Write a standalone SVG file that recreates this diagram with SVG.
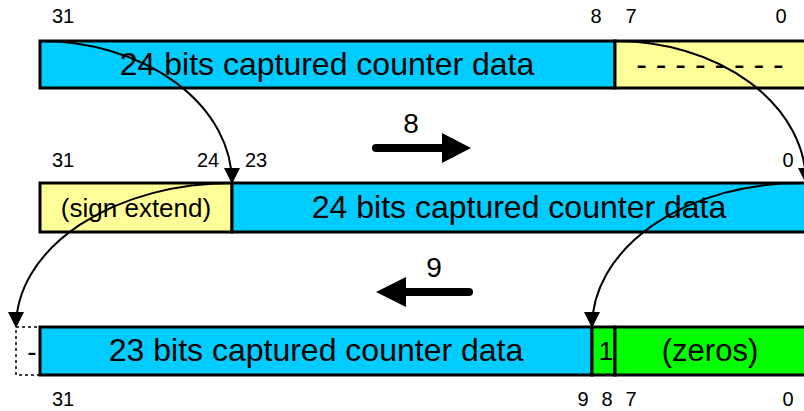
<svg xmlns="http://www.w3.org/2000/svg" width="804" height="411" viewBox="0 0 804 411">
<style>
.cell{stroke:#000;stroke-width:3}
.blue{fill:#00CCFF}
.yel{fill:#FFFF99}
.grn{fill:#00FF00}
.big{font-family:"Liberation Sans",Arial,sans-serif;font-size:32px;fill:#000;text-anchor:middle}
.mid{font-family:"Liberation Sans",Arial,sans-serif;font-size:26px;fill:#000;text-anchor:middle}
.num{font-family:"Liberation Sans",Arial,sans-serif;font-size:20px;fill:#000;text-anchor:middle}
.shift{font-family:"Liberation Sans",Arial,sans-serif;font-size:28px;fill:#000;text-anchor:middle}
.curve{fill:none;stroke:#000;stroke-width:2;marker-end:url(#ah)}
</style>
<defs>
<marker id="ah" markerUnits="userSpaceOnUse" markerWidth="16" markerHeight="16" refX="15" refY="8" orient="auto" viewBox="0 0 16 16">
<path d="M0,0 L16,8 L0,16 Z" fill="#000"/>
</marker>
</defs>
<rect width="804" height="411" fill="#fff"/>

<g id="row1-data">
<rect class="cell blue" x="40" y="41" width="575" height="47"/>
<text class="big" x="327" y="75">24 bits captured counter data</text>
</g>
<g id="row1-low">
<rect class="cell yel" x="615" y="41" width="200" height="47"/>
<text class="big" x="710" y="75">- - - - - - - -</text>
</g>
<g id="row1-labels">
<text class="num" x="63" y="23">31</text>
<text class="num" x="596" y="23">8</text>
<text class="num" x="631" y="23">7</text>
<text class="num" x="781" y="23">0</text>
</g>

<g id="row2-sign">
<rect class="cell yel" x="40" y="183" width="192" height="49"/>
<text class="mid" x="136" y="217">(sign extend)</text>
</g>
<g id="row2-data">
<rect class="cell blue" x="232" y="183" width="583" height="49"/>
<text class="big" x="519" y="218">24 bits captured counter data</text>
</g>
<g id="row2-labels">
<text class="num" x="63" y="167">31</text>
<text class="num" x="208" y="167">24</text>
<text class="num" x="256" y="167">23</text>
<text class="num" x="788" y="167">0</text>
</g>

<g id="row3-overflow">
<rect x="16" y="327" width="24" height="48" fill="#fff" stroke="#000" stroke-width="1.5" stroke-dasharray="3,3"/>
<text class="shift" x="32" y="361">-</text>
</g>
<g id="row3-data">
<rect class="cell blue" x="40" y="327" width="552" height="48"/>
<text class="big" x="316" y="361">23 bits captured counter data</text>
</g>
<g id="row3-one">
<rect class="cell grn" x="592" y="327" width="23" height="48"/>
<text class="shift" x="606" y="360" style="font-size:26px">1</text>
</g>
<g id="row3-zeros">
<rect class="cell grn" x="615" y="327" width="200" height="48"/>
<text class="big" x="710" y="361" style="font-size:31px">(zeros)</text>
</g>
<g id="row3-labels">
<text class="num" x="63" y="406">31</text>
<text class="num" x="583" y="406">9</text>
<text class="num" x="607" y="406">8</text>
<text class="num" x="631" y="406">7</text>
<text class="num" x="788" y="406">0</text>
</g>

<g id="shift-right">
<text class="shift" x="411" y="133">8</text>
<line x1="376" y1="148" x2="446" y2="148" stroke="#000" stroke-width="8" stroke-linecap="round"/>
<polygon points="442,133 471,148 442,163" fill="#000"/>
</g>
<g id="shift-left">
<text class="shift" x="434" y="277">9</text>
<line x1="469" y1="292" x2="402" y2="292" stroke="#000" stroke-width="8" stroke-linecap="round"/>
<polygon points="406,277 376,292 406,307" fill="#000"/>
</g>

<g id="connectors">
<path class="curve" d="M40,41 A192,142 0 0 1 232,183"/>
<path class="curve" d="M615,41 A191,142 0 0 1 806,183"/>
<path class="curve" d="M232,183 A216,144 0 0 0 16,327"/>
<path class="curve" d="M800,183 A208,144 0 0 0 592,327"/>
</g>
</svg>
